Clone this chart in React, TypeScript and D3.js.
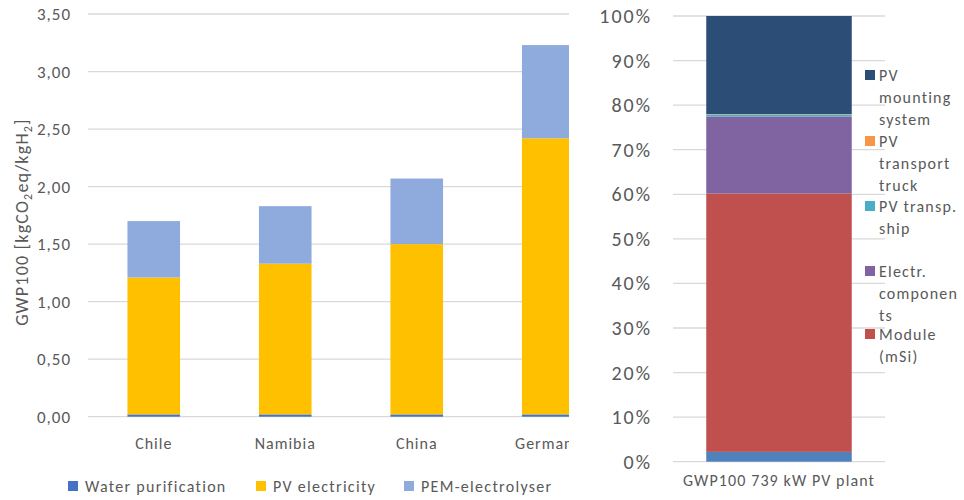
import React from "react";
import * as d3 from "d3";

// Left chart: GWP100 per kg hydrogen by country
const countries = ["Chile", "Namibia", "China", "Germany"];
const waterPurification = [0.02, 0.02, 0.02, 0.02];
const pvElectricity = [1.19, 1.31, 1.48, 2.4];
const pemElectrolyser = [0.49, 0.5, 0.57, 0.81];
const leftTicks = [0, 0.5, 1, 1.5, 2, 2.5, 3, 3.5];
const leftSeries = ["Water purification", "PV electricity", "PEM-electrolyser"];

// Right chart: share of GWP100 for the PV plant (100% stacked)
const plantCategory = ["GWP100 739 kW PV plant"];
const plantOther = [2.2];
const plantModule = [58.0];
const plantElectr = [17.2];
const plantShip = [0.5];
const plantTruck = [0.1];
const plantMounting = [22.0];
const rightTicks = [0, 10, 20, 30, 40, 50, 60, 70, 80, 90, 100];

const FONT = "Calibri, Carlito, Lato, sans-serif";
const TEXT = "#595959";
const GRID = "#D9D9D9";

const leftColors = ["#4472C4", "#FFC000", "#8FAADC"];
const rightColors = {
  other: "#4F81BD",
  module: "#C0504D",
  electr: "#8064A2",
  ship: "#4BACC6",
  truck: "#F79646",
  mounting: "#2C4D75",
};

export default function App() {
  // ---- left chart geometry ----
  const lx0 = 88;
  const lx1 = 614;
  const clipRight = 569;
  const x = d3.scaleBand().domain(countries).range([lx0, lx1]).paddingInner(0.6).paddingOuter(0.3);
  const y = d3.scaleLinear().domain([0, 3.5]).range([416.7, 14]);

  const rows = countries.map((c, i) => ({
    country: c,
    "Water purification": waterPurification[i],
    "PV electricity": pvElectricity[i],
    "PEM-electrolyser": pemElectrolyser[i],
  }));
  const stacked = d3.stack<any>().keys(leftSeries)(rows);
  const fmt = (v: number) => d3.format(".2f")(v).replace(".", ",");

  // ---- right chart geometry ----
  const rx0 = 673;
  const rx1 = 885;
  const xr = d3.scaleBand().domain(plantCategory).range([rx0, rx1]).paddingInner(0.3).paddingOuter(0.16);
  const yr = d3.scaleLinear().domain([0, 100]).range([461.7, 16]);
  const rightKeys = ["other", "module", "electr", "ship", "truck", "mounting"];
  const rightRows = plantCategory.map((c, i) => {
    const vals = [plantOther[i], plantModule[i], plantElectr[i], plantShip[i], plantTruck[i], plantMounting[i]];
    const total = d3.sum(vals);
    const r: any = { cat: c };
    rightKeys.forEach((k, j) => (r[k] = (vals[j] / total) * 100));
    return r;
  });
  const rightStacked = d3.stack<any>().keys(rightKeys)(rightRows);

  const rightLegend = [
    { key: "mounting", lines: ["PV", "mounting", "system"], y: 75 },
    { key: "truck", lines: ["PV", "transport", "truck"], y: 141 },
    { key: "ship", lines: ["PV transp.", "ship"], y: 206 },
    { key: "electr", lines: ["Electr.", "componen", "ts"], y: 271 },
    { key: "module", lines: ["Module", "(mSi)"], y: 334 },
  ];

  const leftLegendX = [68, 256, 404];

  return (
    <svg width={964} height={500} style={{ position: "absolute", left: 0, top: 0, background: "#fff" }}
      fontFamily={FONT}>
      <defs>
        <clipPath id="leftClip">
          <rect x={0} y={0} width={clipRight} height={500} />
        </clipPath>
        <clipPath id="pageClip">
          <rect x={0} y={0} width={964} height={500} />
        </clipPath>
      </defs>
      <rect x={0} y={0} width={964} height={500} fill="#fff" />

      {/* left chart */}
      <g clipPath="url(#leftClip)">
        {leftTicks.map((t) => (
          <line key={t} x1={lx0} x2={lx1} y1={y(t)} y2={y(t)} stroke={GRID} strokeWidth={1.3} />
        ))}
        {stacked.map((s, si) =>
          s.map((d, di) => (
            <rect key={si + "-" + di} x={x(countries[di])!} width={x.bandwidth()}
              y={y(d[1])} height={y(d[0]) - y(d[1])} fill={leftColors[si]} />
          ))
        )}
        {countries.map((c) => (
          <text key={c} x={x(c)! + x.bandwidth() / 2} y={449} textAnchor="middle" fontSize={16}
            letterSpacing={1} fill={TEXT}>{c}</text>
        ))}
      </g>
      {leftTicks.map((t) => (
        <text key={t} x={71} y={y(t) + 6} textAnchor="end" fontSize={17} letterSpacing={1} fill={TEXT}>{fmt(t)}</text>
      ))}
      <text transform="translate(28,222) rotate(-90)" textAnchor="middle" fontSize={18} letterSpacing={1.2} fill={TEXT}>
        GWP100 [kgCO<tspan fontSize={12} dy={4}>2</tspan><tspan dy={-4}>eq/kgH</tspan>
        <tspan fontSize={12} dy={4}>2</tspan><tspan dy={-4}>]</tspan>
      </text>
      {leftSeries.map((s, i) => (
        <g key={s}>
          <rect x={leftLegendX[i]} y={481} width={10} height={10} fill={leftColors[i]} />
          <text x={leftLegendX[i] + 17} y={492} fontSize={16} letterSpacing={1.3} fill={TEXT}>{s}</text>
        </g>
      ))}

      {/* right chart */}
      <g clipPath="url(#pageClip)">
        {rightTicks.map((t) => (
          <line key={t} x1={rx0} x2={rx1} y1={yr(t)} y2={yr(t)} stroke={GRID} strokeWidth={1.3} />
        ))}
        {rightStacked.map((s) =>
          s.map((d, di) => (
            <rect key={s.key + di} x={xr(plantCategory[di])!} width={xr.bandwidth()}
              y={yr(d[1])} height={yr(d[0]) - yr(d[1])} fill={(rightColors as any)[s.key]} />
          ))
        )}
        {rightTicks.map((t) => (
          <text key={t} x={652} y={yr(t) + 7} textAnchor="end" fontSize={20} letterSpacing={2} fill={TEXT}>{t}%</text>
        ))}
        {plantCategory.map((c) => (
          <text key={c} x={xr(c)! + xr.bandwidth() / 2} y={486} textAnchor="middle" fontSize={16}
            letterSpacing={1.1} fill={TEXT}>{c}</text>
        ))}
        {rightLegend.map((l) => (
          <g key={l.key}>
            <rect x={865} y={l.y - 5} width={10} height={10} fill={(rightColors as any)[l.key]} />
            {l.lines.map((ln, k) => (
              <text key={k} x={879} y={l.y + 6 + k * 22} fontSize={16} letterSpacing={1.2} fill={TEXT}>{ln}</text>
            ))}
          </g>
        ))}
      </g>
    </svg>
  );
}
